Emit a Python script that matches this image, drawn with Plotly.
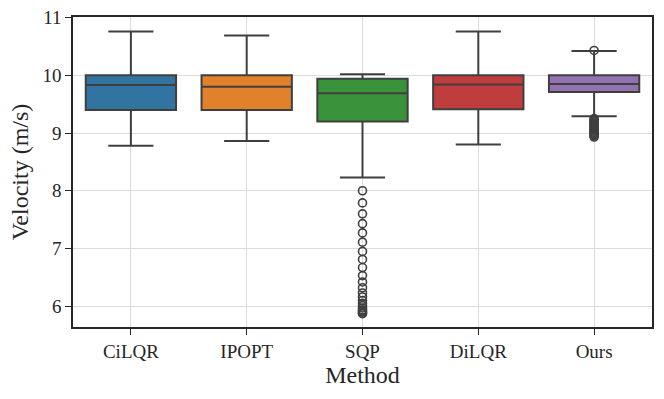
# Velocity distribution per method, box plot in seaborn "ticks + grid" style
import plotly.graph_objects as go

methods = ['CiLQR', 'IPOPT', 'SQP', 'DiLQR', 'Ours']
colors = ['#3274a1', '#e1812c', '#3a923a', '#c03d3e', '#9372b2']

# box statistics (m/s)
lower_whisker = [8.78, 8.86, 8.23, 8.80, 9.29]
q1 = [9.40, 9.40, 9.20, 9.41, 9.71]
median = [9.83, 9.80, 9.69, 9.84, 9.85]
q3 = [10.00, 10.00, 9.94, 10.00, 10.00]
upper_whisker = [10.76, 10.69, 10.02, 10.76, 10.42]

# outliers
sqp_outliers = [8.00, 7.79, 7.60, 7.43, 7.27, 7.11, 6.95, 6.81, 6.67, 6.53,
                6.42, 6.32, 6.23, 6.16, 6.10, 6.05, 6.01, 5.97, 5.94, 5.92,
                5.90, 5.88, 5.87]
ours_outliers = [10.43, 9.25, 9.23, 9.21, 9.19, 9.17, 9.15, 9.13, 9.11, 9.09,
                 9.07, 9.05, 9.03, 9.01, 8.99, 8.97, 8.95, 8.93]
outliers = {'SQP': sqp_outliers, 'Ours': ours_outliers}

LINE = '#3f3f3f'
FONT = 'Liberation Serif, Times New Roman, serif'

fig = go.Figure()
for i, m in enumerate(methods):
    fig.add_trace(go.Box(
        x=[m], q1=[q1[i]], median=[median[i]], q3=[q3[i]],
        lowerfence=[lower_whisker[i]], upperfence=[upper_whisker[i]],
        fillcolor=colors[i], line=dict(color=LINE, width=2),
        width=0.78, whiskerwidth=0.5, boxpoints=False,
        showlegend=False, hoverinfo='y'))

for m, vals in outliers.items():
    fig.add_trace(go.Scatter(
        x=[m] * len(vals), y=vals, mode='markers',
        marker=dict(symbol='circle-open', size=8, color=LINE,
                    line=dict(color=LINE, width=1.6)),
        showlegend=False))

axis_common = dict(
    showline=True, linecolor='#262626', linewidth=1.5, mirror=True,
    ticks='outside', ticklen=6, tickwidth=1.2, tickcolor='#262626',
    showgrid=True, gridcolor='#dcdcdc', gridwidth=1,
    tickfont=dict(size=19, color='#262626', family=FONT),
    zeroline=False, automargin=False,
)

fig.update_layout(
    width=664, height=399,
    margin=dict(l=73, r=12, t=17, b=72),
    plot_bgcolor='white', paper_bgcolor='white',
    boxmode='overlay',
    font=dict(family=FONT, color='#262626'),
    xaxis=dict(title=dict(text='Method', font=dict(size=24), standoff=2),
               categoryorder='array', categoryarray=methods,
               range=[-0.5, 4.5], **axis_common),
    yaxis=dict(title=dict(text='Velocity (m/s)', font=dict(size=24), standoff=7),
               range=[5.64, 11.01], tickvals=[6, 7, 8, 9, 10, 11],
               **axis_common),
)

# drop the browser's default body margin so the figure sits at (0, 0)
fig.write_html('out.html', config={'displayModeBar': False},
               post_script="document.body.style.margin='0';")
